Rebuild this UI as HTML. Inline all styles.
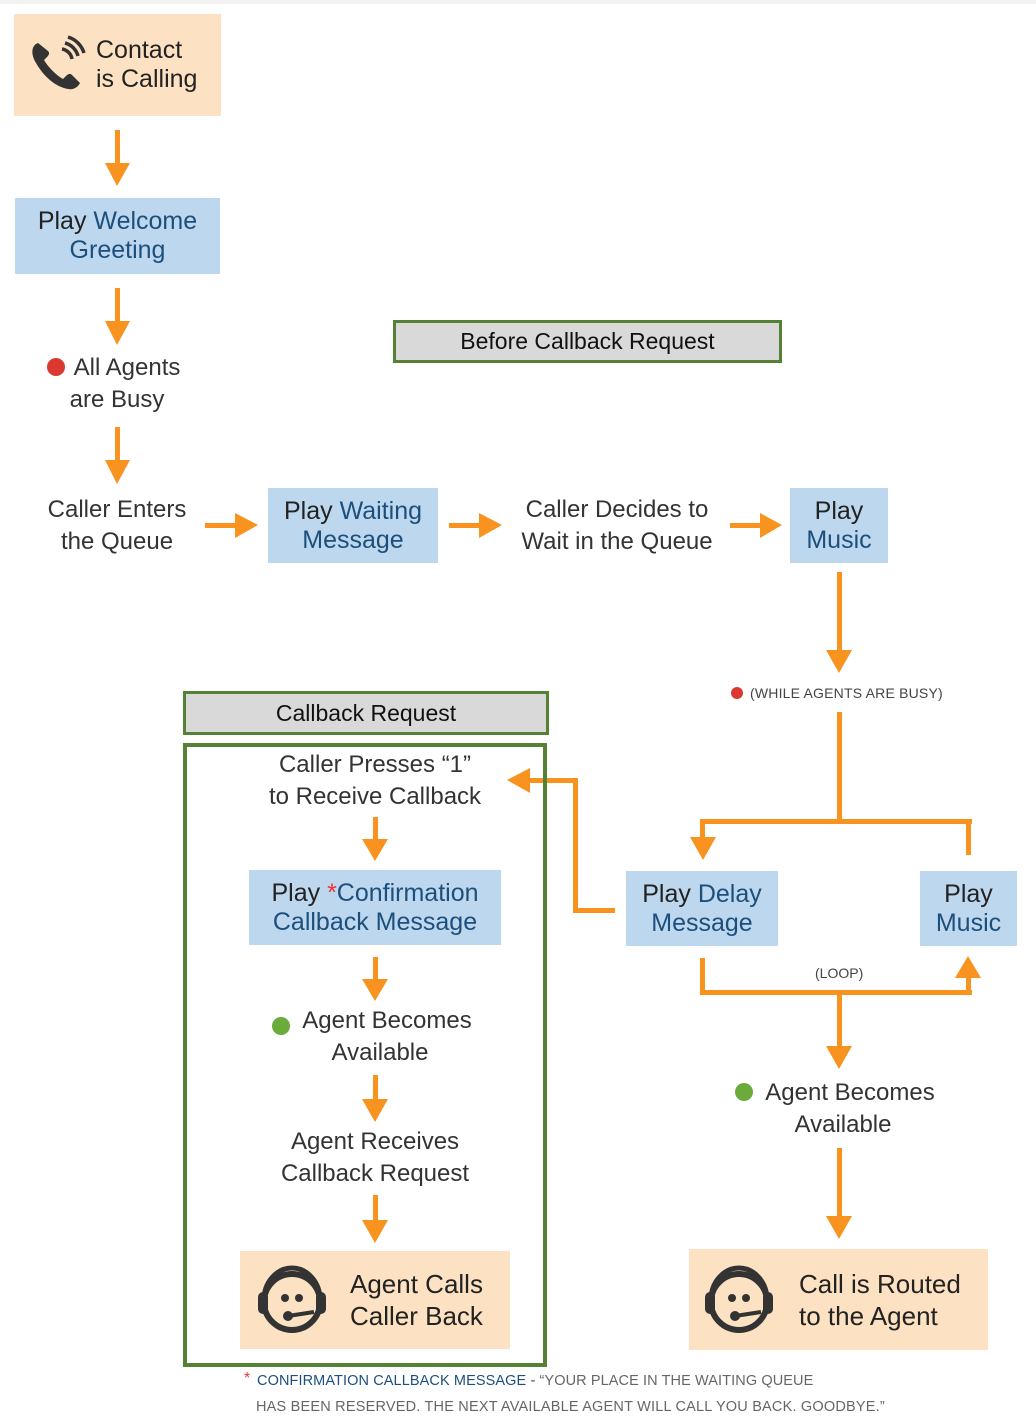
<!DOCTYPE html>
<html><head><meta charset="utf-8"><style>
body{margin:0;width:1036px;height:1426px;background:#fff;position:relative;font-family:"Liberation Sans",sans-serif;overflow:hidden}
.a{position:absolute}
.box{position:absolute;display:flex;align-items:center;justify-content:center;text-align:center;font-size:25px;line-height:29px;color:#222}
.blue{background:#bdd7ee}
.peach{background:#fde1c3}
.b{color:#1d4f7c}
.t{position:absolute;text-align:center;font-size:24px;line-height:32px;color:#333;transform:translateX(-50%);white-space:nowrap}
.hdr{position:absolute;background:#d9d9d9;border:3px solid #548235;box-sizing:border-box;display:flex;align-items:center;justify-content:center;font-size:23px;color:#111}
</style></head><body>
<div class="a" style="left:0;top:0;width:1036px;height:4px;background:#f2f2f2"></div>
<svg class="a" style="left:0;top:0" width="1036" height="1426">
<g fill="#f7931e" stroke="none">
<rect x="115" y="130" width="5" height="35"/><polygon points="105,163 130,163 117,186"/>
<rect x="115" y="288" width="5" height="35"/><polygon points="105,321 130,321 117,345"/>
<rect x="115" y="427" width="5" height="35"/><polygon points="105,460 130,460 117,484"/>
<rect x="205" y="523" width="32" height="5"/><polygon points="235,513 235,538 258,525"/>
<rect x="449" y="523" width="32" height="5"/><polygon points="479,513 479,538 502,525"/>
<rect x="730" y="523" width="32" height="5"/><polygon points="760,513 760,538 782,525"/>
<rect x="837" y="572" width="5" height="80"/><polygon points="826,650 852,650 839,673"/>
<rect x="837" y="712" width="5" height="112"/>
<rect x="700" y="819" width="272" height="5"/>
<rect x="700" y="819" width="5" height="20"/><polygon points="690,837 716,837 703,860"/>
<rect x="966" y="819" width="5" height="36"/>
<rect x="700" y="958" width="5" height="37"/>
<rect x="700" y="990" width="272" height="5"/>
<rect x="966" y="975" width="5" height="20"/><polygon points="955,978 981,978 968,956"/>
<rect x="837" y="990" width="5" height="58"/><polygon points="826,1046 852,1046 839,1069"/>
<rect x="837" y="1148" width="5" height="70"/><polygon points="826,1216 852,1216 839,1239"/>
<rect x="573" y="908" width="42" height="5"/>
<rect x="573" y="778" width="5" height="135"/>
<rect x="528" y="778" width="50" height="5"/><polygon points="530,768 530,793 507,780"/>
<rect x="373" y="817" width="5" height="24"/><polygon points="362,839 388,839 375,861"/>
<rect x="373" y="957" width="5" height="24"/><polygon points="362,979 388,979 375,1001"/>
<rect x="373" y="1075" width="5" height="26"/><polygon points="362,1099 388,1099 375,1122"/>
<rect x="373" y="1195" width="5" height="27"/><polygon points="362,1220 388,1220 375,1243"/>
</g>
<circle cx="56" cy="367" r="9" fill="#d9392f"/>
<circle cx="737" cy="693" r="6" fill="#d9392f"/>
<circle cx="744" cy="1092" r="9" fill="#6aab3c"/>
<circle cx="281" cy="1026" r="9" fill="#6aab3c"/>
<rect x="185" y="745" width="360" height="620" fill="none" stroke="#548235" stroke-width="4"/>
</svg>

<div class="box peach" style="left:14px;top:14px;width:207px;height:102px;justify-content:flex-start">
<svg style="margin-left:14px" width="60" height="60" viewBox="0 0 60 60"><path d="M10 8 C4 10 2 18 8 28 C16 42 28 52 40 54 C46 55 50 52 52 48 L44 40 C42 38 40 39 38 41 L35 44 C28 40 20 32 16 25 L19 22 C21 20 22 18 20 16 Z" fill="#333"/><path d="M34 14 A12 12 0 0 1 44 24 M37 8 A18 18 0 0 1 50 21 M40 2 A24 24 0 0 1 56 18" stroke="#333" stroke-width="3.5" fill="none"/></svg>
<div style="text-align:left;margin-left:8px;line-height:29px;font-size:25px">Contact<br>is Calling</div></div>

<div class="box blue" style="left:15px;top:198px;width:205px;height:76px"><div>Play <span class="b">Welcome<br>Greeting</span></div></div>

<div class="t" style="left:127px;top:352px">All Agents</div>
<div class="t" style="left:117px;top:384px">are Busy</div>
<div class="t" style="left:117px;top:494px">Caller Enters<br>the Queue</div>
<div class="box blue" style="left:268px;top:488px;width:170px;height:75px"><div>Play <span class="b">Waiting<br>Message</span></div></div>
<div class="t" style="left:617px;top:494px">Caller Decides to<br>Wait in the Queue</div>
<div class="box blue" style="left:790px;top:488px;width:98px;height:75px"><div>Play<br><span class="b">Music</span></div></div>

<div class="hdr" style="left:393px;top:320px;width:389px;height:43px">Before Callback Request</div>
<div class="a" style="left:750px;top:685px;font-size:14px;color:#444;letter-spacing:0.2px">(WHILE AGENTS ARE BUSY)</div>
<div class="box blue" style="left:626px;top:871px;width:152px;height:75px"><div>Play <span class="b">Delay<br>Message</span></div></div>
<div class="box blue" style="left:920px;top:871px;width:97px;height:75px"><div>Play<br><span class="b">Music</span></div></div>
<div class="a" style="left:815px;top:965px;font-size:14px;color:#444">(LOOP)</div>
<div class="t" style="left:850px;top:1077px">Agent Becomes</div>
<div class="t" style="left:843px;top:1109px">Available</div>
<div class="box peach" style="left:689px;top:1249px;width:299px;height:101px;justify-content:flex-start">
<svg style="margin-left:14px" width="72" height="76" viewBox="0 0 72 76"><circle cx="36" cy="40" r="28" fill="none" stroke="#333" stroke-width="6"/><path d="M8 38 A28 32 0 0 1 64 38" fill="none" stroke="#333" stroke-width="5"/><rect x="2" y="30" width="10" height="22" rx="5" fill="#333"/><rect x="60" y="30" width="10" height="22" rx="5" fill="#333"/><circle cx="29" cy="36" r="4" fill="#333"/><circle cx="43" cy="36" r="4" fill="#333"/><path d="M32 54 L58 50" stroke="#333" stroke-width="4"/><circle cx="32" cy="54" r="5" fill="#333"/></svg>
<div style="text-align:left;margin-left:24px;line-height:32px;font-size:26px">Call is Routed<br>to the Agent</div></div>

<div class="hdr" style="left:183px;top:691px;width:366px;height:44px">Callback Request</div>
<div class="t" style="left:375px;top:749px">Caller Presses “1”<br>to Receive Callback</div>
<div class="box blue" style="left:249px;top:870px;width:252px;height:75px"><div>Play <span style="color:#e33">*</span><span class="b">Confirmation<br>Callback Message</span></div></div>
<div class="t" style="left:387px;top:1005px">Agent Becomes</div>
<div class="t" style="left:380px;top:1037px">Available</div>
<div class="t" style="left:375px;top:1126px">Agent Receives<br>Callback Request</div>
<div class="box peach" style="left:240px;top:1251px;width:270px;height:98px;justify-content:flex-start">
<svg style="margin-left:16px" width="72" height="76" viewBox="0 0 72 76"><circle cx="36" cy="40" r="28" fill="none" stroke="#333" stroke-width="6"/><path d="M8 38 A28 32 0 0 1 64 38" fill="none" stroke="#333" stroke-width="5"/><rect x="2" y="30" width="10" height="22" rx="5" fill="#333"/><rect x="60" y="30" width="10" height="22" rx="5" fill="#333"/><circle cx="29" cy="36" r="4" fill="#333"/><circle cx="43" cy="36" r="4" fill="#333"/><path d="M32 54 L58 50" stroke="#333" stroke-width="4"/><circle cx="32" cy="54" r="5" fill="#333"/></svg>
<div style="text-align:left;margin-left:22px;line-height:32px;font-size:26px">Agent Calls<br>Caller Back</div></div>

<div class="a" style="left:244px;top:1370px;font-size:16px;color:#e33">*</div>
<div class="a" style="left:257px;top:1373px;font-size:14.5px;color:#666;white-space:nowrap;letter-spacing:0.1px"><span style="color:#1d4f7c">CONFIRMATION CALLBACK MESSAGE -</span> “YOUR PLACE IN THE WAITING QUEUE</div>
<div class="a" style="left:256px;top:1399px;font-size:14.5px;color:#666;white-space:nowrap;letter-spacing:0.2px">HAS BEEN RESERVED. THE NEXT AVAILABLE AGENT WILL CALL YOU BACK. GOODBYE.”</div>
</body></html>
